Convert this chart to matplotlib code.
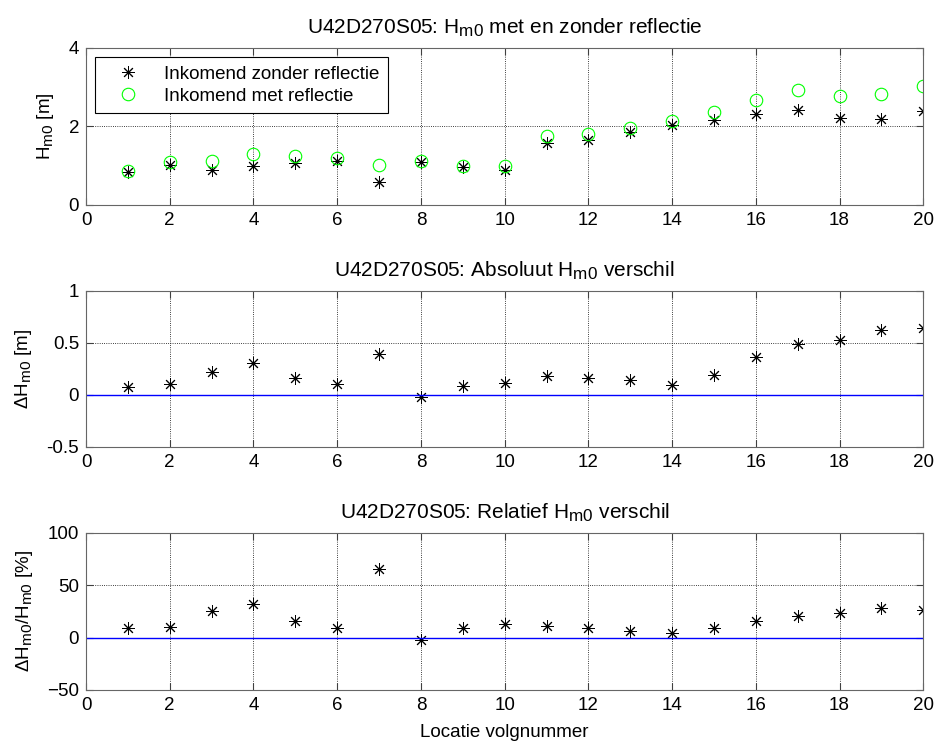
import numpy as np
import matplotlib
matplotlib.use("Agg")
import matplotlib.pyplot as plt
import matplotlib._mathtext as mt

plt.rcParams['font.family'] = ['Liberation Sans', 'DejaVu Sans']
plt.rcParams['mathtext.fontset'] = 'custom'
plt.rcParams['mathtext.rm'] = 'Liberation Sans'
plt.rcParams['mathtext.it'] = 'Liberation Sans'
plt.rcParams['mathtext.default'] = 'regular'
plt.rcParams['font.size'] = 13.5
# subscripts in the original are nearly full size
mt.SHRINK_FACTOR = 0.82

locatie = np.arange(1, 21)
zonder = [0.82, 1.02, 0.88, 0.98, 1.06, 1.12, 0.59, 1.10, 0.96, 0.88,
          1.56, 1.64, 1.84, 2.04, 2.15, 2.30, 2.42, 2.21, 2.18, 2.39]
met = [0.87, 1.09, 1.11, 1.29, 1.23, 1.20, 1.00, 1.12, 0.99, 0.98,
       1.75, 1.79, 1.95, 2.12, 2.35, 2.67, 2.92, 2.76, 2.83, 3.02]
abs_verschil = [0.07, 0.10, 0.22, 0.30, 0.16, 0.10, 0.39, -0.026, 0.084, 0.11,
                0.18, 0.16, 0.14, 0.094, 0.19, 0.365, 0.49, 0.525, 0.626, 0.64]
rel_verschil = [8.7, 10.3, 25.8, 32.2, 15.4, 8.7, 65.7, -2.3, 8.7, 12.9,
                11.0, 9.4, 6.5, 3.9, 8.7, 16.1, 20.6, 23.8, 28.4, 26.7]

xticks = np.arange(0, 21, 2)
star = (8, 2, 0)
tfs = 15

fig = plt.figure(figsize=(9.36, 7.44), dpi=100)
ax1 = fig.add_axes([0.0919, 0.7249, 0.8945, 0.2110])
ax2 = fig.add_axes([0.0919, 0.3996, 0.8945, 0.2097])
ax3 = fig.add_axes([0.0919, 0.0726, 0.8945, 0.2114])


def style(ax, yticks, ylim):
	ax.set_xlim(0, 20)
	ax.set_ylim(*ylim)
	ax.set_xticks(xticks)
	ax.set_yticks(yticks)
	ax.tick_params(direction='in', top=True, right=True, length=5, width=0.8,
				   color='0.25', labelsize=13.5, pad=5)
	ax.grid(True, linestyle=':', color='k', linewidth=0.6)
	for s in ax.spines.values():
		s.set_color('0.4')
		s.set_linewidth(0.8)


# bovenste: Hm0 met en zonder reflectie
ax1.plot(locatie, zonder, linestyle='none', marker=star, markersize=9,
		 markeredgecolor='k', markeredgewidth=0.7, label='Inkomend zonder reflectie')
ax1.plot(locatie, met, linestyle='none', marker='o', markersize=9,
		 markerfacecolor='none', markeredgecolor=(0, 1, 0), markeredgewidth=0.8,
		 label='Inkomend met reflectie')
style(ax1, [0, 2, 4], (0, 4))
ax1.set_ylabel('H$_{m0}$ [m]', labelpad=9)
ax1.set_title('U42D270S05: H$_{m0}$ met en zonder reflectie', fontsize=tfs, pad=10)
leg = ax1.legend(loc='upper left', bbox_to_anchor=(0.0104, 0.939), borderaxespad=0,
				 fancybox=False, edgecolor='k', framealpha=1, fontsize=13.5,
				 borderpad=0.45, labelspacing=0.25, handletextpad=0.55,
				 handlelength=2.7)
leg.get_frame().set_linewidth(0.8)

# midden: absoluut verschil
ax2.plot(locatie, abs_verschil, linestyle='none', marker=star, markersize=9,
		 markeredgecolor='k', markeredgewidth=0.7)
ax2.axhline(0, color=(0, 0, 1), linewidth=1)
style(ax2, [-0.5, 0, 0.5, 1], (-0.5, 1))
ax2.set_yticklabels(['-0.5', '0', '0.5', '1'])
ax2.set_ylabel('ΔH$_{m0}$ [m]', labelpad=9)
ax2.set_title('U42D270S05: Absoluut H$_{m0}$ verschil', fontsize=tfs, pad=10)

# onder: relatief verschil
ax3.plot(locatie, rel_verschil, linestyle='none', marker=star, markersize=9,
		 markeredgecolor='k', markeredgewidth=0.7)
ax3.axhline(0, color=(0, 0, 1), linewidth=1)
style(ax3, [-50, 0, 50, 100], (-50, 100))
ax3.set_ylabel('ΔH$_{m0}$/H$_{m0}$ [%]', labelpad=9)
ax3.set_title('U42D270S05: Relatief H$_{m0}$ verschil', fontsize=tfs, pad=10)
ax3.set_xlabel('Locatie volgnummer', labelpad=7)

fig.savefig('out.png', dpi=100)
